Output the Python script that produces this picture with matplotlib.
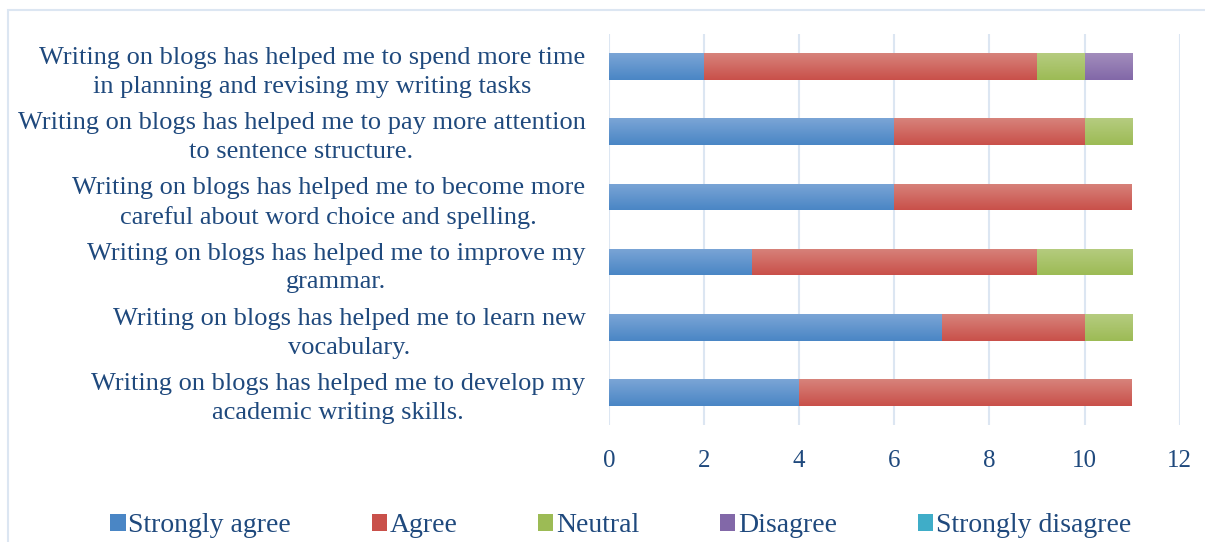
import matplotlib
matplotlib.use("Agg")
import matplotlib.pyplot as plt
import numpy as np
from matplotlib.patches import Rectangle, Patch

# survey statements (bottom to top as drawn)
statements = [
    "Writing on blogs has helped me to develop my\nacademic writing skills.",
    "Writing on blogs has helped me to learn new\nvocabulary.",
    "Writing on blogs has helped me to improve my\ngrammar.",
    "Writing on blogs has helped me to become more\ncareful about word choice and spelling.",
    "Writing on blogs has helped me to pay more attention\nto sentence structure.",
    "Writing on blogs has helped me to spend more time\nin planning and revising my writing tasks",
]
strongly_agree = [4, 7, 3, 6, 6, 2]
agree = [7, 3, 6, 5, 4, 7]
neutral = [0, 1, 2, 0, 1, 1]
disagree = [0, 0, 0, 0, 0, 1]
strongly_disagree = [0, 0, 0, 0, 0, 0]

series = ["Strongly agree", "Agree", "Neutral", "Disagree", "Strongly disagree"]
# (top colour, bottom colour) for the gradient fill
colors = [("#7ba5d6", "#4a86c5"), ("#d7837b", "#c9504a"), ("#b6cc80", "#9cbb55"),
          ("#a28dbc", "#8268a8"), ("#6cc3d8", "#3fadc8")]
text_color = "#1f497d"

plt.rcParams['font.family'] = ['Liberation Serif', 'DejaVu Serif']

fig = plt.figure(figsize=(12.05, 5.42), dpi=100)
ax = fig.add_axes([0.5054, 0.216, 0.4736, 0.721])

# light border around the chart area
fig.patches.append(Rectangle((8 / 1205, -0.05), 1.1, 1 - 10 / 542 + 0.05,
                             transform=fig.transFigure, fill=False,
                             edgecolor="#dce6f2", linewidth=1.5))

y = np.arange(len(statements))
left = np.zeros(len(statements))
data = [strongly_agree, agree, neutral, disagree, strongly_disagree]
for vals, name, (c_top, c_bot) in zip(data, series, colors):
    bars = ax.barh(y, vals, left=left, height=0.41, color=c_bot, label=name, zorder=2)
    grad = np.linspace(1, 0, 64).reshape(-1, 1)
    cmap = matplotlib.colors.LinearSegmentedColormap.from_list("g", [c_top, c_bot])
    for b in bars:
        if b.get_width() <= 0:
            continue
        x0, y0 = b.get_x(), b.get_y()
        im = ax.imshow(grad, cmap=cmap, aspect="auto", zorder=3,
                       extent=[x0, x0 + b.get_width(), y0 + b.get_height(), y0],
                       origin="upper")
        im.set_clip_path(b)
    left += np.array(vals)

ax.set_xlim(0, 12)
ax.set_ylim(-0.5, 5.5)
ax.set_xticks(range(0, 13, 2))
ax.set_yticks(y)
ax.set_yticklabels(statements, ha="right", multialignment="center",
                   linespacing=1.4)
ax.tick_params(axis="y", length=0, pad=17, labelsize=19, labelcolor=text_color)
ax.tick_params(axis="x", length=0, pad=18, labelsize=18, labelcolor=text_color)
ax.grid(axis="x", color="#dce6f2", linewidth=1.5, zorder=0)
ax.set_axisbelow(True)
for s in ax.spines.values():
    s.set_visible(False)

handles = [Patch(facecolor=c[1], label=n) for n, c in zip(series, colors)]
fig.legend(handles=handles, loc="center", bbox_to_anchor=(0.515, 0.03), ncol=5,
           frameon=False, fontsize=20, labelcolor=text_color,
           handlelength=0.55, handleheight=0.55, handletextpad=0.1, columnspacing=2.9,
           borderpad=0.2)

fig.savefig("out.png", dpi=100)
